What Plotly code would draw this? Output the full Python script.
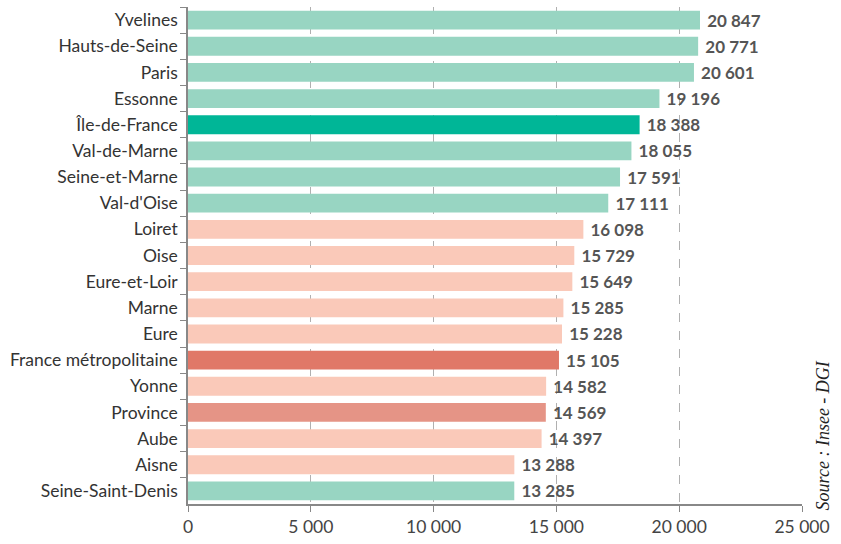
import plotly.graph_objects as go

categories = ["Yvelines", "Hauts-de-Seine", "Paris", "Essonne", "Île-de-France",
              "Val-de-Marne", "Seine-et-Marne", "Val-d'Oise", "Loiret", "Oise",
              "Eure-et-Loir", "Marne", "Eure", "France métropolitaine", "Yonne",
              "Province", "Aube", "Aisne", "Seine-Saint-Denis"]
values = [20847, 20771, 20601, 19196, 18388, 18055, 17591, 17111, 16098, 15729,
          15649, 15285, 15228, 15105, 14582, 14569, 14397, 13288, 13285]
groups = ["idf", "idf", "idf", "idf", "idf_total", "idf", "idf", "idf", "prov", "prov",
          "prov", "prov", "prov", "fm_total", "prov", "prov_total", "prov", "prov", "idf"]
color_map = {"idf": "#98d5c2", "idf_total": "#00b697", "prov": "#fac9b9",
             "fm_total": "#e07868", "prov_total": "#e59486"}
colors = [color_map[g] for g in groups]
labels = ["\u00a0" + f"{v:,}".replace(",", " ") for v in values]
tick_vals = [0, 5000, 10000, 15000, 20000, 25000]
tick_text = ["0", "5 000", "10 000", "15 000", "20 000", "25 000"]

L, R, T, B = 188, 39, 7, 37
W, H = 841, 544

fig = go.Figure()
fig.add_trace(go.Bar(
    y=categories, x=values, orientation="h",
    marker=dict(color=colors, line=dict(width=0)),
    width=0.72,
    text=labels, textposition="outside", cliponaxis=False, constraintext="none",
    textfont=dict(family="Lato", size=17, color="#555555", weight="bold"),
))

fig.update_layout(
    width=W, height=H,
    margin=dict(l=L, r=R, t=T, b=B),
    plot_bgcolor="white", paper_bgcolor="white",
    showlegend=False,
    font=dict(family="Lato", size=17, color="#333333"),
    xaxis=dict(range=[0, 25000], tickvals=tick_vals, ticktext=tick_text,
               showgrid=True, gridcolor="#b0b0b0", griddash="dash", gridwidth=1,
               zeroline=False, showline=True, linecolor="#888888", linewidth=1.5,
               ticks="outside", ticklen=6, tickcolor="#888888",
               tickfont=dict(size=17.5, color="#444444")),
    yaxis=dict(autorange="reversed", showline=True, linecolor="#888888", linewidth=1.5,
               ticks="outside", tickson="boundaries", ticklen=6, tickcolor="#888888",
               ticklabelstandoff=5,
               tickfont=dict(size=17.5, color="#333333"), showgrid=False),
    annotations=[dict(text="<i>Source : Insee - DGI</i>", textangle=-90,
                      x=(823 - L) / (W - L - R), y=(H - B - 438) / (H - T - B),
                      xref="paper", yref="paper", showarrow=False,
                      xanchor="center", yanchor="middle",
                      font=dict(family="Liberation Serif", size=18, color="#222222"))],
)
fig.write_html("out.html")
